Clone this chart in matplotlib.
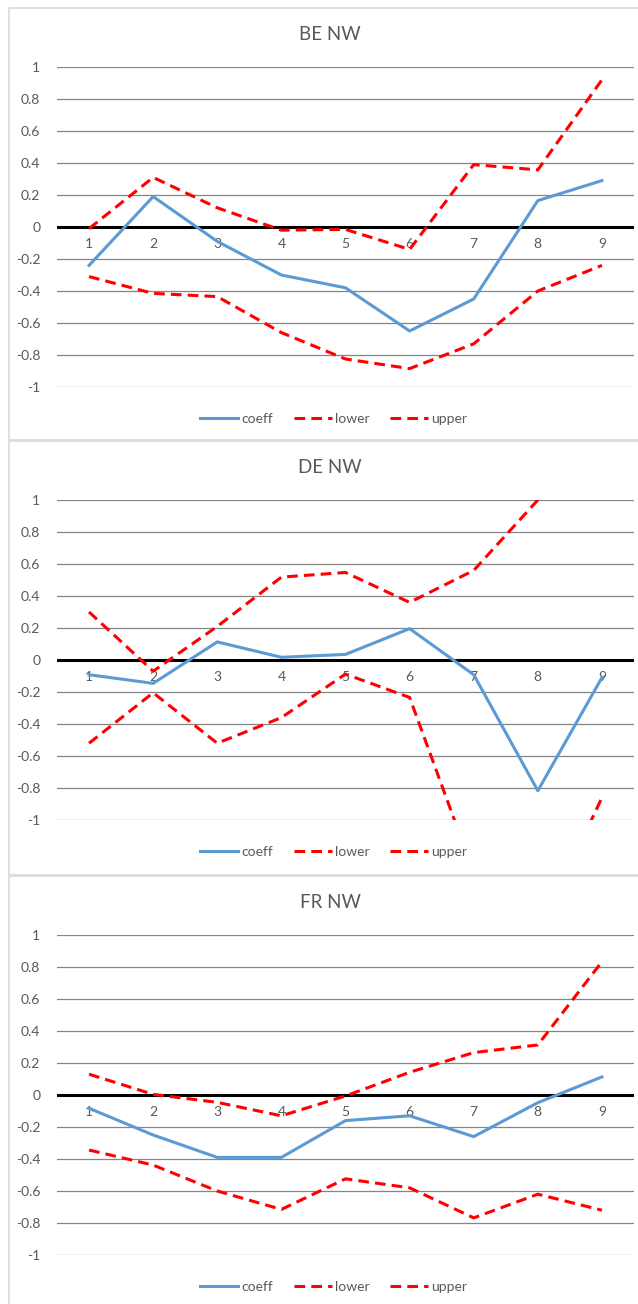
import matplotlib.pyplot as plt
from matplotlib.patches import Rectangle

plt.rcParams['font.family'] = ['Lato', 'DejaVu Sans']

# datos
lags = [1, 2, 3, 4, 5, 6, 7, 8, 9]
titles = ["BE NW", "DE NW", "FR NW"]

be_coeff = [-0.24, 0.19, -0.09, -0.30, -0.38, -0.65, -0.45, 0.165, 0.29]
be_lower = [-0.31, -0.415, -0.435, -0.66, -0.825, -0.885, -0.73, -0.40, -0.24]
be_upper = [-0.01, 0.31, 0.12, -0.02, -0.015, -0.14, 0.39, 0.357, 0.92]

de_coeff = [-0.092, -0.146, 0.113, 0.017, 0.035, 0.196, -0.092, -0.817, -0.11]
de_lower = [-0.52, -0.205, -0.52, -0.36, -0.088, -0.234, -1.33, -1.71, -0.86]
de_upper = [0.30, -0.07, 0.21, 0.518, 0.547, 0.36, 0.56, 1.0, 1.6]

fr_coeff = [-0.083, -0.25, -0.39, -0.39, -0.16, -0.13, -0.26, -0.048, 0.113]
fr_lower = [-0.344, -0.438, -0.60, -0.715, -0.524, -0.58, -0.768, -0.62, -0.72]
fr_upper = [0.13, 0.004, -0.046, -0.13, -0.006, 0.142, 0.265, 0.313, 0.833]

coeffs = [be_coeff, de_coeff, fr_coeff]
lowers = [be_lower, de_lower, fr_lower]
uppers = [be_upper, de_upper, fr_upper]

W, H = 638, 1304
fig = plt.figure(figsize=(W / 100, H / 100), dpi=100)

gris = "#595959"
panel_top = [8, 441, 876]
panel_bot = [440, 875, 1310]
ax_top = [67, 500, 935]

for i in range(3):
    # marco de cada grafico (estilo Excel)
    fig.patches.append(Rectangle((9 / W, 1 - panel_bot[i] / H), (W + 20) / W,
                                 (panel_bot[i] - panel_top[i]) / H,
                                 transform=fig.transFigure, fill=False,
                                 edgecolor="#D9D9D9", lw=1.2))

    top = ax_top[i]
    ax = fig.add_axes([57 / W, 1 - (top + 320) / H, 577 / W, 320 / H])
    ax.plot(lags, coeffs[i], color="#5B9BD5", lw=2.2, label="coeff")
    ax.plot(lags, lowers[i], color="#FF0000", lw=2.2, ls=(0, (3.5, 2)), label="lower")
    ax.plot(lags, uppers[i], color="#FF0000", lw=2.2, ls=(0, (3.5, 2)), label="upper")

    ax.set_xlim(0.5, 9.5)
    ax.set_ylim(-1, 1)
    ax.set_yticks([-1, -0.8, -0.6, -0.4, -0.2, 0, 0.2, 0.4, 0.6, 0.8, 1])
    ax.set_yticklabels(["-1", "-0.8", "-0.6", "-0.4", "-0.2", "0", "0.2", "0.4",
                        "0.6", "0.8", "1"])
    ax.grid(axis="y", color="#858585", lw=0.9)
    ax.set_axisbelow(True)
    ax.axhline(0, color="black", lw=2.2, zorder=1.5)

    for s in ["top", "right", "left"]:
        ax.spines[s].set_visible(False)
    ax.spines["bottom"].set_position(("data", 0))
    ax.spines["bottom"].set_visible(False)
    ax.set_xticks(lags)
    ax.tick_params(axis="x", length=0, pad=8, labelcolor=gris, labelsize=10)
    ax.tick_params(axis="y", length=0, pad=12, labelcolor=gris, labelsize=10)

    fig.text(330 / W, 1 - (top - 32) / H, titles[i], ha="center", va="center",
             fontsize=13.5, color=gris)

    ax.legend(loc="center", bbox_to_anchor=(0.48, -0.1), ncol=3, frameon=False,
              fontsize=10, labelcolor=gris, handlelength=2.7, handletextpad=0.25,
              columnspacing=1.5)

fig.savefig("out.png", dpi=100)
